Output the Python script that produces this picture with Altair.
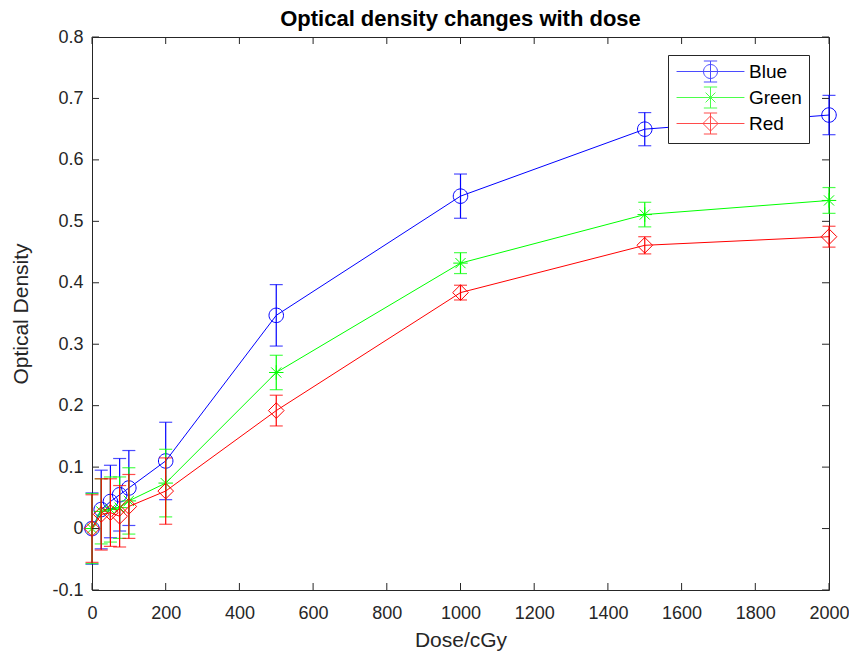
import altair as alt
import pandas as pd

series_names = ["Blue", "Green", "Red"]
series_colors = ["#0000FF", "#00FF00", "#FF0000"]
doses = [0, 25, 50, 75, 100, 200, 500, 1000, 1500, 2000]
blue_od = [0.0, 0.031, 0.044, 0.055, 0.066, 0.110, 0.347, 0.541, 0.650, 0.673]
blue_err = [0.058, 0.064, 0.059, 0.059, 0.061, 0.063, 0.050, 0.036, 0.027, 0.032]
green_od = [0.0, 0.028, 0.031, 0.034, 0.045, 0.074, 0.254, 0.432, 0.511, 0.534]
green_err = [0.057, 0.053, 0.053, 0.050, 0.054, 0.055, 0.028, 0.017, 0.020, 0.021]
red_od = [0.0, 0.023, 0.026, 0.020, 0.036, 0.061, 0.192, 0.384, 0.461, 0.475]
red_err = [0.055, 0.058, 0.055, 0.050, 0.052, 0.054, 0.025, 0.012, 0.014, 0.017]
x_ticks = [0, 200, 400, 600, 800, 1000, 1200, 1400, 1600, 1800, 2000]
y_ticks = [-0.1, 0.0, 0.1, 0.2, 0.3, 0.4, 0.5, 0.6, 0.7, 0.8]

W, H = 737, 553
FONT = "Liberation Sans"
AX = "#262626"

marker_paths = [
    "M1,0A1,1,0,1,1,-1,0A1,1,0,1,1,1,0Z",
    "M0,-1L0,1M-1,0L1,0M-0.7,-0.7L0.7,0.7M-0.7,0.7L0.7,-0.7",
    "M0,-1.08L1.08,0L0,1.08L-1.08,0Z",
]
legend_base = "M-4.85,0L4.85,0M0,-1.5L0,1.5M-0.95,-1.5L0.95,-1.5M-0.95,1.5L0.95,1.5"
legend_paths = [legend_base + p for p in marker_paths]

all_od = [blue_od, green_od, red_od]
all_err = [blue_err, green_err, red_err]
rows = []
for name, ods, errs in zip(series_names, all_od, all_err):
    for d, v, e in zip(doses, ods, errs):
        rows.append({"series": name, "dose": d, "od": v, "err": e})
df = pd.DataFrame(rows)

xscale = alt.Scale(domain=[0, 2000], nice=False, zero=False)
yscale = alt.Scale(domain=[-0.1, 0.8], nice=False, zero=False)

x_axis = alt.Axis(values=x_ticks, tickSize=0, domain=False, grid=False, format="d",
                  labelFlush=False, labelPadding=14, titlePadding=7, title="Dose/cGy")
y_axis = alt.Axis(values=y_ticks, tickSize=0, domain=False, grid=False, labelFlush=False,
                  labelPadding=9, titlePadding=20, title="Optical Density",
                  labelExpr="datum.value == 0 ? '0' : replace(format(datum.value, '.1f'), '\u2212', '-')")

base = alt.Chart(df)
layers = []
first = True
for i, (name, col) in enumerate(zip(series_names, series_colors)):
    sb = base.transform_filter(alt.datum.series == name).transform_calculate(
        lo="datum.od - datum.err", hi="datum.od + datum.err")
    if first:
        X = alt.X("dose:Q", scale=xscale, axis=x_axis)
        Y = alt.Y("od:Q", scale=yscale, axis=y_axis)
        first = False
    else:
        X = alt.X("dose:Q", scale=xscale)
        Y = alt.Y("od:Q", scale=yscale)
    layers.append(sb.mark_line(color=col, strokeWidth=1).encode(x=X, y=Y))
    layers.append(sb.mark_rule(color=col, strokeWidth=1.2).encode(
        x=alt.X("dose:Q", scale=xscale), y=alt.Y("lo:Q", scale=yscale), y2="hi:Q"))
    for f in ["lo", "hi"]:
        layers.append(sb.mark_tick(color=col, orient="horizontal", size=13, thickness=1.2).encode(
            x=alt.X("dose:Q", scale=xscale), y=alt.Y(f + ":Q", scale=yscale)))
    layers.append(sb.mark_point(shape=marker_paths[i], size=210, filled=False,
                                stroke=col, strokeWidth=1, opacity=1).encode(
        x=alt.X("dose:Q", scale=xscale), y=alt.Y("od:Q", scale=yscale)))

# inward ticks on all four sides
xt = pd.DataFrame({"v": x_ticks})
yt = pd.DataFrame({"v": y_ticks})
tick_col = AX
layers.append(alt.Chart(xt).mark_rule(color=tick_col, strokeWidth=1).encode(
    x=alt.X("v:Q", scale=xscale), y=alt.value(H), y2=alt.value(H - 7)))
layers.append(alt.Chart(xt).mark_rule(color=tick_col, strokeWidth=1).encode(
    x=alt.X("v:Q", scale=xscale), y=alt.value(0), y2=alt.value(7)))
layers.append(alt.Chart(yt).mark_rule(color=tick_col, strokeWidth=1).encode(
    y=alt.Y("v:Q", scale=yscale), x=alt.value(0), x2=alt.value(7)))
layers.append(alt.Chart(yt).mark_rule(color=tick_col, strokeWidth=1).encode(
    y=alt.Y("v:Q", scale=yscale), x=alt.value(W), x2=alt.value(W - 7)))

# legend layer (no drawn data, explicit domains)
leg = alt.Legend(title=None, orient="none", legendX=576, legendY=18,
                 symbolSize=196, symbolStrokeWidth=1, symbolOffset=26,
                 labelOffset=29, labelFontSize=19, labelFont=FONT, labelColor="#000000",
                 padding=7, rowPadding=1, strokeColor=AX, fillColor="white",
                 cornerRadius=0)
layers.append(base.transform_filter("false").mark_point(filled=False, strokeWidth=1).encode(
    color=alt.Color("series:N", scale=alt.Scale(domain=series_names, range=series_colors), legend=leg),
    shape=alt.Shape("series:N", scale=alt.Scale(domain=series_names, range=legend_paths), legend=leg),
))

chart = alt.layer(*layers).properties(
    width=W, height=H,
    background="white",
    title=alt.TitleParams("Optical density changes with dose", fontSize=22, fontWeight="bold",
                          font=FONT, color="#000000", offset=-3, anchor="middle"),
    autosize=alt.AutoSizeParams(type="none"),
    padding={"left": 84, "top": 29, "right": 20, "bottom": 64},
).configure_view(stroke=AX, strokeWidth=1).configure_axis(
    labelFont=FONT, labelFontSize=18, labelColor=AX,
    titleFont=FONT, titleFontSize=21, titleColor=AX, titleFontWeight="normal",
)

chart.save("out.html", embed_options={"renderer": "svg", "actions": False})
